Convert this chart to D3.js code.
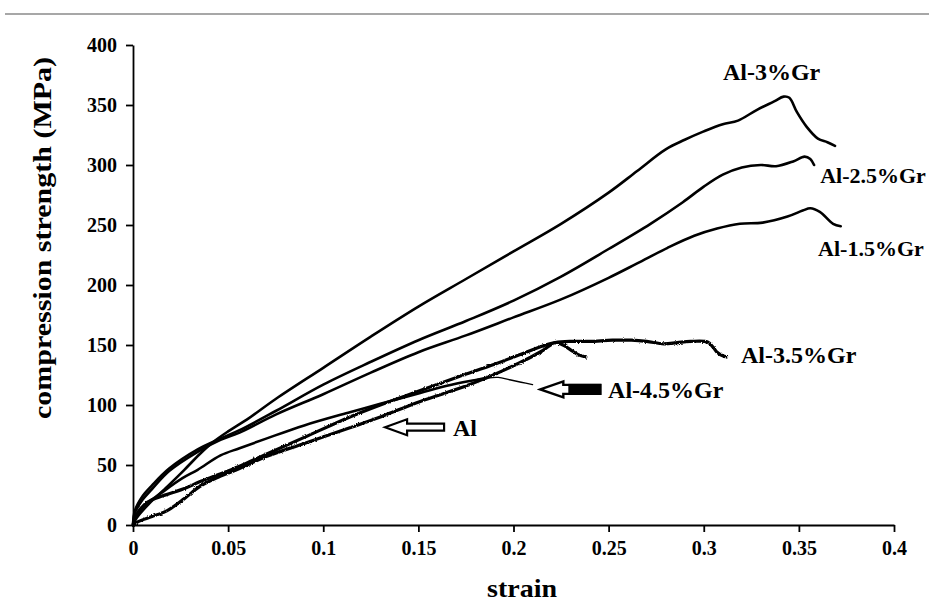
<!DOCTYPE html>
<html>
<head>
<meta charset="utf-8">
<script src="https://cdnjs.cloudflare.com/ajax/libs/d3/7.8.5/d3.min.js"></script>
<style>
  body { margin: 0; background: #fff; }
  svg { display: block; }
  text { font-family: "Liberation Serif", "Times New Roman", serif; font-weight: bold; fill: #000; }
</style>
</head>
<body>
<div id="chart"></div>
<script>
// strain / compression strength (MPa) pairs
const al3Gr = [[0,0],[0.002,6],[0.008,17],[0.018,32],[0.027,46],[0.035,59],[0.042,69],[0.05,78],[0.06,88],[0.075,105],[0.1,131],[0.125,157],[0.15,182],[0.175,205],[0.2,228],[0.225,251],[0.25,277],[0.265,295],[0.28,313],[0.29,321],[0.3,328],[0.31,334],[0.318,337],[0.328,346],[0.337,353],[0.342,357],[0.345,356],[0.349,344],[0.354,332],[0.36,322],[0.365,319],[0.369,316]];
const al25Gr = [[0,0],[0.001,12],[0.005,24],[0.01,33],[0.019,47],[0.034,63],[0.046,72],[0.056,79],[0.075,95],[0.1,117],[0.125,136],[0.15,154],[0.175,170],[0.2,187],[0.225,207],[0.25,230],[0.272,251],[0.289,269],[0.3,282],[0.31,292],[0.32,298],[0.33,300],[0.338,299],[0.347,303],[0.353,307],[0.356,305],[0.358,300]];
const al15Gr = [[0,0],[0.001,10],[0.005,21],[0.01,30],[0.019,45],[0.034,61],[0.046,71],[0.056,77],[0.075,92],[0.1,109],[0.125,127],[0.15,144],[0.175,158],[0.2,173],[0.225,188],[0.25,206],[0.265,218],[0.281,231],[0.295,241],[0.307,247],[0.319,251],[0.331,252],[0.344,257],[0.352,262],[0.356,264],[0.361,261],[0.368,251],[0.372,249]];
const al35Gr = [[0,0],[0.002,9],[0.006,17],[0.01,21],[0.015,24],[0.021,27],[0.028,31],[0.035,36],[0.045,42],[0.056,49],[0.07,59],[0.09,73],[0.114,90],[0.13,100],[0.151,112],[0.17,123],[0.19,134],[0.205,143],[0.215,149],[0.222,152],[0.23,153],[0.24,153],[0.252,154],[0.262,154],[0.27,153],[0.279,151],[0.286,152],[0.293,153],[0.302,152.5],[0.305,148],[0.307,144],[0.31,141],[0.312,140]];
const al45Gr = [[0,0],[0.002,8],[0.006,16],[0.016,28],[0.026,39],[0.034,46],[0.046,58],[0.056,64],[0.07,72],[0.09,83],[0.114,94],[0.13,101],[0.151,110],[0.165,116],[0.177,120],[0.186,122.5],[0.192,123],[0.198,121],[0.204,119],[0.21,117]];
const alPure = [[0,0],[0.003,3],[0.01,7],[0.018,12],[0.027,22],[0.035,32],[0.045,40],[0.056,47],[0.07,57],[0.09,68],[0.114,81],[0.13,90],[0.151,103],[0.177,117],[0.203,135],[0.215,145],[0.222,152],[0.226,150],[0.23,146],[0.234,142],[0.238,140]];

const xTicks = [0, 0.05, 0.1, 0.15, 0.2, 0.25, 0.3, 0.35, 0.4];
const xTickLabels = ["0", "0.05", "0.1", "0.15", "0.2", "0.25", "0.3", "0.35", "0.4"];
const yTicks = [0, 50, 100, 150, 200, 250, 300, 350, 400];

const W = 929, H = 609;
const svg = d3.select("#chart").append("svg").attr("width", W).attr("height", H);

// rough edge for the noisy test records
const defs = svg.append("defs");
const rough = defs.append("filter").attr("id", "rough")
    .attr("x", "-5%").attr("y", "-5%").attr("width", "110%").attr("height", "110%");
rough.append("feTurbulence").attr("type", "fractalNoise").attr("baseFrequency", 0.9)
    .attr("numOctaves", 1).attr("seed", 4).attr("result", "noise");
rough.append("feDisplacementMap").attr("in", "SourceGraphic").attr("in2", "noise")
    .attr("scale", 2.8).attr("xChannelSelector", "R").attr("yChannelSelector", "G");

// thin rule along the top of the page
svg.append("line").attr("x1", 5).attr("x2", W).attr("y1", 14).attr("y2", 14)
    .attr("stroke", "#8a8a8a").attr("stroke-width", 1.5);

const x = d3.scaleLinear().domain([0, 0.4]).range([133, 894]);
const y = d3.scaleLinear().domain([0, 400]).range([525, 45]);

const xAxis = svg.append("g").attr("transform", `translate(0,${y(0)})`)
    .call(d3.axisBottom(x).tickValues(xTicks).tickFormat((d, i) => xTickLabels[i])
        .tickSizeInner(7).tickSizeOuter(0).tickPadding(9));
const yAxis = svg.append("g").attr("transform", `translate(${x(0)},0)`)
    .call(d3.axisLeft(y).tickValues(yTicks).tickFormat(d3.format("d"))
        .tickSizeInner(7).tickSizeOuter(0).tickPadding(9));

[xAxis, yAxis].forEach(g => {
    g.select(".domain").attr("stroke", "#000").attr("stroke-width", 1.8);
    g.selectAll(".tick line").attr("stroke", "#000").attr("stroke-width", 1.8);
    g.selectAll(".tick text").style("font-family", "Liberation Serif, serif")
        .style("font-weight", "bold").style("font-size", "20px").attr("fill", "#000");
});

// axis titles
svg.append("text").attr("x", 522).attr("y", 597).attr("text-anchor", "middle")
    .style("font-size", "25px").attr("textLength", 70).attr("lengthAdjust", "spacingAndGlyphs")
    .text("strain");
svg.append("text").attr("transform", "translate(51,238) rotate(-90)").attr("text-anchor", "middle")
    .style("font-size", "26px").attr("textLength", 362).attr("lengthAdjust", "spacingAndGlyphs")
    .text("compression  strength (MPa)");

const line = d3.line().x(d => x(d[0])).y(d => y(d[1])).curve(d3.curveCatmullRom.alpha(0.5));

const plot = svg.append("g");
[al3Gr, al25Gr, al15Gr].forEach(s => {
    plot.append("path").datum(s).attr("d", line)
        .attr("fill", "none").attr("stroke", "#000").attr("stroke-width", 2.6)
        .attr("stroke-linejoin", "round").attr("stroke-linecap", "round");
});
// Al-4.5%Gr: solid body, thin tail after its maximum
plot.append("path").datum(al45Gr.filter(d => d[0] <= 0.186)).attr("d", line)
    .attr("fill", "none").attr("stroke", "#000").attr("stroke-width", 2.6).attr("stroke-linecap", "round");
plot.append("path").datum(al45Gr.filter(d => d[0] >= 0.177)).attr("d", line)
    .attr("fill", "none").attr("stroke", "#000").attr("stroke-width", 1.4).attr("stroke-linecap", "round");
[al35Gr, alPure].forEach(s => {
    plot.append("path").datum(s).attr("d", line)
        .attr("fill", "none").attr("stroke", "#000").attr("stroke-width", 3.2)
        .attr("stroke-linejoin", "round").attr("stroke-linecap", "round")
        .attr("filter", "url(#rough)");
});

// curve labels, anchored in data units
const labels = [
    {t: "Al-3%Gr", s: 0.3101, m: 371, fs: 24},
    {t: "Al-2.5%Gr", s: 0.3612, m: 285, fs: 22},
    {t: "Al-1.5%Gr", s: 0.3601, m: 224, fs: 22},
    {t: "Al-3.5%Gr", s: 0.3196, m: 135, fs: 24},
    {t: "Al-4.5%Gr", s: 0.2497, m: 106, fs: 24},
    {t: "Al", s: 0.1682, m: 74, fs: 24}
];
svg.append("g").selectAll("text").data(labels).join("text")
    .attr("x", d => x(d.s)).attr("y", d => y(d.m))
    .style("font-size", d => d.fs + "px").text(d => d.t);

// block arrows pointing at Al and Al-4.5%Gr
function arrowPath(tx, ty, headLen, headHalf, shaftLen, shaftHalf) {
    return `M${tx},${ty} L${tx + headLen},${ty - headHalf} L${tx + headLen},${ty - shaftHalf}
            L${tx + headLen + shaftLen},${ty - shaftHalf} L${tx + headLen + shaftLen},${ty + shaftHalf}
            L${tx + headLen},${ty + shaftHalf} L${tx + headLen},${ty + headHalf} Z`;
}
const alTip = [x(0.1325), y(81.5)];
svg.append("path").attr("d", arrowPath(alTip[0], alTip[1], 22, 8, 37, 3.5))
    .attr("fill", "#fff").attr("stroke", "#000").attr("stroke-width", 2.2).attr("stroke-linejoin", "miter");
const gr45Tip = [x(0.2141), y(113)];
svg.append("path").attr("d", arrowPath(gr45Tip[0], gr45Tip[1], 23, 8, 37, 4.5))
    .attr("fill", "#fff").attr("stroke", "#000").attr("stroke-width", 2.4).attr("stroke-linejoin", "miter");
svg.append("rect").attr("x", gr45Tip[0] + 28).attr("y", gr45Tip[1] - 5.5)
    .attr("width", 33).attr("height", 11).attr("fill", "#000");
</script>
</body>
</html>
